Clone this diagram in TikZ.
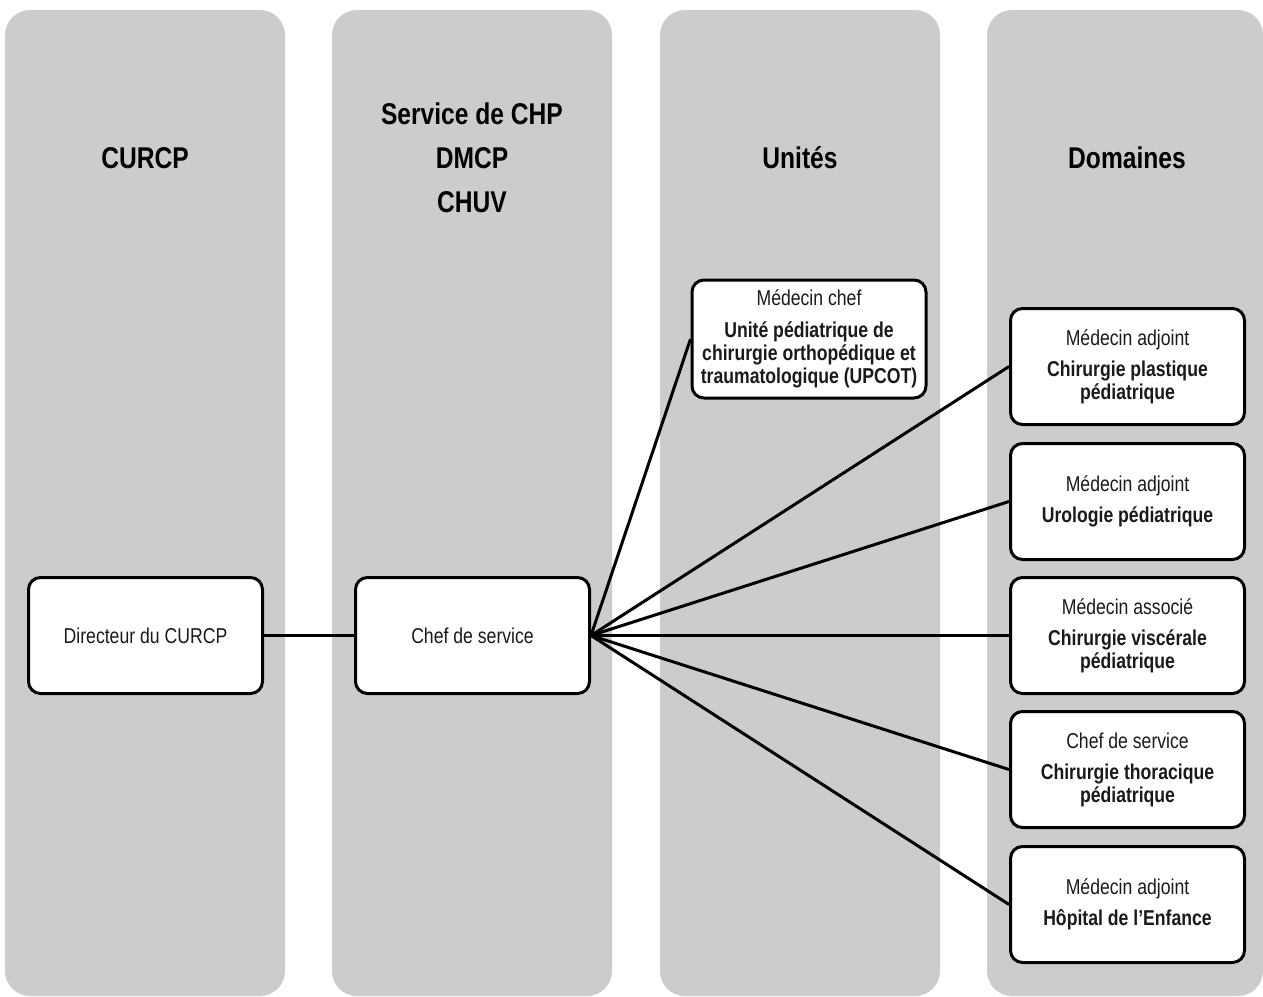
\documentclass[tikz,border=0pt]{standalone}
\usepackage{fontspec}
\setmainfont{Liberation Sans}[FakeStretch=0.82]
\definecolor{colgray}{HTML}{CCCCCC}
\definecolor{txtgray}{HTML}{1A1A1A}
\tikzset{
  column/.style={fill=colgray, draw=none, rounded corners=25pt},
  header/.style={font=\fontsize{30}{44}\selectfont\bfseries, align=center, text=black},
  box/.style={draw=black, fill=white, line width=3pt, rounded corners=12pt,
    minimum width=234pt, minimum height=116pt, align=center, inner sep=0pt,
    font=\fontsize{21.5}{23}\selectfont, text=txtgray},
  link/.style={line width=3pt, draw=black}
}
\begin{document}
\begin{tikzpicture}[x=1pt,y=-1pt]
\useasboundingbox (0,0) rectangle (1263,996);
% columns
\fill[column] (5,10) rectangle (285,996);
\fill[column] (332,10) rectangle (612,996);
\fill[column] (660,10) rectangle (940,996);
\fill[column] (987,10) rectangle (1263,996);
% headers
\node[header] (h1) at (145,158) {CURCP};
\node[header] (h2) at (472,158) {Service de CHP\\DMCP\\CHUV};
\node[header] (h3) at (800,158) {Unités};
\node[header] (h4) at (1127,158) {Domaines};
% boxes
\node[box] (dir) at (145.5,635.5) {Directeur du CURCP};
\node[box] (chef) at (472.5,635.5) {Chef de service};
\node[box, minimum height=118pt] (upcot) at (809,339) {Médecin chef\\[9pt]\textbf{Unité pédiatrique de}\\\textbf{chirurgie orthopédique et}\\\textbf{traumatologique (UPCOT)}};
\node[box] (d1) at (1127.5,366.5) {Médecin adjoint\\[8pt]\textbf{Chirurgie plastique}\\\textbf{pédiatrique}};
\node[box] (d2) at (1127.5,501.5) {Médecin adjoint\\[8pt]\textbf{Urologie pédiatrique}};
\node[box] (d3) at (1127.5,635.5) {Médecin associé\\[8pt]\textbf{Chirurgie viscérale}\\\textbf{pédiatrique}};
\node[box] (d4) at (1127.5,769.5) {Chef de service\\[8pt]\textbf{Chirurgie thoracique}\\\textbf{pédiatrique}};
\node[box] (d5) at (1127.5,904.5) {Médecin adjoint\\[8pt]\textbf{Hôpital de l’Enfance}};
% connectors
\draw[link] (dir.east) -- (chef.west);
\draw[link] (chef.east) -- (upcot.west);
\draw[link] (chef.east) -- (d1.west);
\draw[link] (chef.east) -- (d2.west);
\draw[link] (chef.east) -- (d3.west);
\draw[link] (chef.east) -- (d4.west);
\draw[link] (chef.east) -- (d5.west);
\end{tikzpicture}
\end{document}
